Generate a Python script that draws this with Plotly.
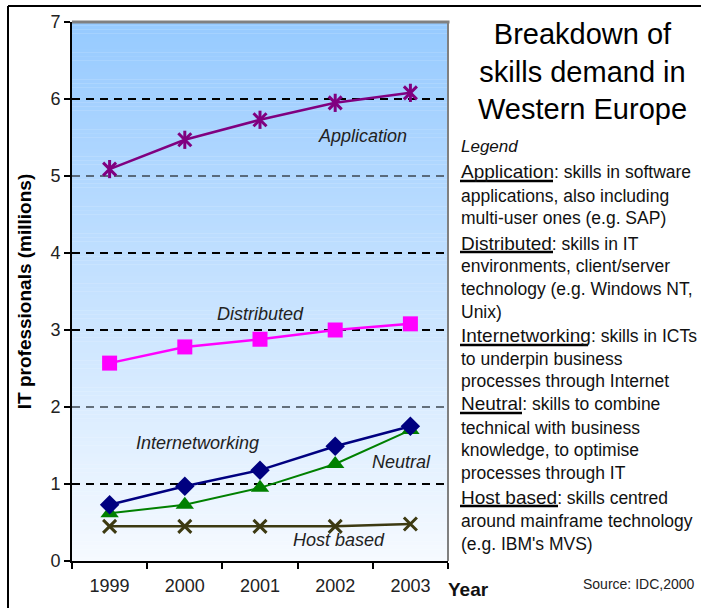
import plotly.graph_objects as go

# ---- data -------------------------------------------------------------
years = ["1999", "2000", "2001", "2002", "2003"]
application = [5.09, 5.47, 5.73, 5.95, 6.08]
distributed = [2.57, 2.78, 2.88, 3.00, 3.08]
internetworking = [0.73, 0.97, 1.18, 1.49, 1.75]
neutral = [0.62, 0.73, 0.95, 1.26, 1.70]
host_based = [0.45, 0.45, 0.45, 0.45, 0.48]

y_ticks = [0, 1, 2, 3, 4, 5, 6, 7]

title_lines = ["Breakdown of", "skills demand in", "Western Europe"]

legend_entries = [
    ("Application", ["skills in software", "applications, also including",
                     "multi-user ones (e.g. SAP)"]),
    ("Distributed", ["skills in IT", "environments, client/server",
                     "technology (e.g. Windows NT,", "Unix)"]),
    ("Internetworking", ["skills in ICTs", "to underpin business",
                         "processes through Internet"]),
    ("Neutral", ["skills to combine", "technical with business",
                 "knowledge, to optimise", "processes through IT"]),
    ("Host based", ["skills centred", "around mainframe technology",
                    "(e.g. IBM's MVS)"]),
]

FONT = "Liberation Sans, Arial, sans-serif"

# ---- figure geometry (pixels) ----------------------------------------
W, H = 701, 608
L, R, T, B = 72, 448, 22, 561


def px(x):
    return (x - L) / (R - L)


def py(y):
    return (B - y) / (B - T)


fig = go.Figure()

# ---- series ----------------------------------------------------------
PURPLE = "#800080"
OLIVE = "#3d3a12"

fig.add_trace(go.Scatter(
    x=years, y=application, mode="lines+markers",
    line=dict(color=PURPLE, width=2.5),
    marker=dict(symbol="x-thin-open", size=13, color=PURPLE,
                line=dict(color=PURPLE, width=3)),
))
fig.add_trace(go.Scatter(
    x=years, y=application, mode="markers",
    marker=dict(symbol="line-ns-open", size=13, color=PURPLE,
                line=dict(color=PURPLE, width=3)),
))
fig.add_trace(go.Scatter(
    x=years, y=distributed, mode="lines+markers",
    line=dict(color="#FF00FF", width=2.5),
    marker=dict(symbol="square", size=15, color="#FF00FF"),
))
fig.add_trace(go.Scatter(
    x=years, y=neutral, mode="lines+markers",
    line=dict(color="#008000", width=2),
    marker=dict(symbol="triangle-up", size=16, color="#008000"),
))
fig.add_trace(go.Scatter(
    x=years, y=internetworking, mode="lines+markers",
    line=dict(color="#000080", width=2.5),
    marker=dict(symbol="diamond", size=15, color="#000080"),
))
fig.add_trace(go.Scatter(
    x=years, y=host_based, mode="lines+markers",
    line=dict(color=OLIVE, width=2.5),
    marker=dict(symbol="x-thin-open", size=13, color=OLIVE,
                line=dict(color=OLIVE, width=3)),
))

shapes = []

# vertical gradient behind the plot area
top_rgb = (150, 202, 255)
bot_rgb = (246, 250, 255)
steps = 140
for i in range(steps):
    y0 = 7 * i / steps
    y1 = 7 * (i + 1) / steps
    f = (i + 0.5) / steps
    c = tuple(round(b + (t - b) * f) for t, b in zip(top_rgb, bot_rgb))
    shapes.append(dict(type="rect", xref="x domain", yref="y",
                       x0=0, x1=1, y0=y0, y1=y1 + 0.004, layer="below",
                       line=dict(width=0),
                       fillcolor="rgb(%d,%d,%d)" % c))

# dashed horizontal grid lines
grid_style = {1: ("#000000", 2.2), 2: ("#3c4650", 1.3), 3: ("#000000", 2.2),
              4: ("#000000", 2.2), 5: ("#3c4650", 1.3), 6: ("#000000", 2.2)}
for v, (col, w) in grid_style.items():
    shapes.append(dict(type="line", xref="x domain", yref="y",
                       x0=0, x1=1, y0=v, y1=v, layer="below",
                       line=dict(color=col, width=w, dash="8px,6px")))

# grey frame on the top and right of the plot area
shapes.append(dict(type="line", xref="paper", yref="paper",
                   x0=0, x1=1.004, y0=1, y1=1,
                   line=dict(color="#808080", width=3)))
shapes.append(dict(type="line", xref="paper", yref="paper",
                   x0=1, x1=1, y0=0, y1=1,
                   line=dict(color="#808080", width=2)))

# outer page border (left and top)
shapes.append(dict(type="line", xref="paper", yref="paper",
                   x0=px(8), x1=px(8), y0=py(6), y1=py(H + 2),
                   line=dict(color="#000000", width=2)))
shapes.append(dict(type="line", xref="paper", yref="paper",
                   x0=px(8), x1=px(W + 2), y0=py(6), y1=py(6),
                   line=dict(color="#000000", width=2)))

annotations = []

# series names inside the plot
series_labels = [
    ("Application", 362, 136),
    ("Distributed", 260, 314),
    ("Internetworking", 197, 443),
    ("Neutral", 401, 462),
    ("Host based", 339, 540),
]
for txt, x, y in series_labels:
    annotations.append(dict(text="<i>%s</i>" % txt, xref="paper", yref="paper",
                            x=px(x), y=py(y), xanchor="center", yanchor="middle",
                            showarrow=False,
                            font=dict(family=FONT, size=18, color="#222222")))

# title block
annotations.append(dict(text="<br>".join(title_lines), xref="paper", yref="paper",
                        x=px(582), y=py(71), xanchor="center", yanchor="middle",
                        showarrow=False, align="center",
                        font=dict(family=FONT, size=29, color="#000000")))

# legend text block
annotations.append(dict(text="<i>Legend</i>", xref="paper", yref="paper",
                        x=px(459), y=py(146), xanchor="left", yanchor="middle",
                        showarrow=False,
                        font=dict(family=FONT, size=17, color="#111111")))

line_y = [172, 196, 218,
          243, 266, 289, 312,
          336, 359, 381,
          404, 428, 450, 473,
          497, 521, 544]
underline_ends = {"Application": 553, "Distributed": 553,
                  "Internetworking": 588, "Neutral": 522, "Host based": 558}
k = 0
for key, lines in legend_entries:
    first = '<span style="font-size:19px">%s</span>: %s' % (key, lines[0])
    for j, txt in enumerate([first] + lines[1:]):
        annotations.append(dict(text=txt, xref="paper", yref="paper",
                                x=px(459), y=py(line_y[k]), xanchor="left",
                                yanchor="middle", showarrow=False,
                                font=dict(family=FONT, size=17.5, color="#111111")))
        if j == 0:
            uy = line_y[k] + 9
            shapes.append(dict(type="line", xref="paper", yref="paper",
                               x0=px(460), x1=px(underline_ends[key]),
                               y0=py(uy), y1=py(uy),
                               line=dict(color="#000000", width=2.5)))
        k += 1

# axis caption and source note
annotations.append(dict(text="<b>Year</b>", xref="paper", yref="paper",
                        x=px(446), y=py(589), xanchor="left", yanchor="middle",
                        showarrow=False,
                        font=dict(family=FONT, size=19, color="#111111")))
annotations.append(dict(text="Source: IDC,2000", xref="paper", yref="paper",
                        x=px(696), y=py(584), xanchor="right", yanchor="middle",
                        showarrow=False,
                        font=dict(family=FONT, size=14, color="#222222")))

fig.update_layout(
    width=W, height=H,
    margin=dict(l=L, r=W - R, t=T, b=H - B, pad=0),
    paper_bgcolor="#ffffff",
    plot_bgcolor="rgba(0,0,0,0)",
    showlegend=False,
    shapes=shapes,
    annotations=annotations,
    font=dict(family=FONT, color="#222222"),
    xaxis=dict(
        type="category", range=[-0.5, 4.5], tickson="boundaries",
        showline=True, linecolor="#000000", linewidth=2,
        ticks="outside", ticklen=6, tickwidth=2, tickcolor="#000000",
        ticklabelstandoff=7,
        showgrid=False, zeroline=False,
        tickfont=dict(family=FONT, size=18, color="#222222"),
    ),
    yaxis=dict(
        range=[0, 7], tickvals=y_ticks,
        showline=True, linecolor="#000000", linewidth=2,
        ticks="outside", ticklen=6, tickwidth=2, tickcolor="#000000",
        showgrid=False, zeroline=False,
        tickfont=dict(family=FONT, size=18, color="#222222"),
        title=dict(text="<b>IT professionals (millions)</b>", standoff=14,
                   font=dict(family=FONT, size=19, color="#000000")),
    ),
)

fig.write_html("out.html")
